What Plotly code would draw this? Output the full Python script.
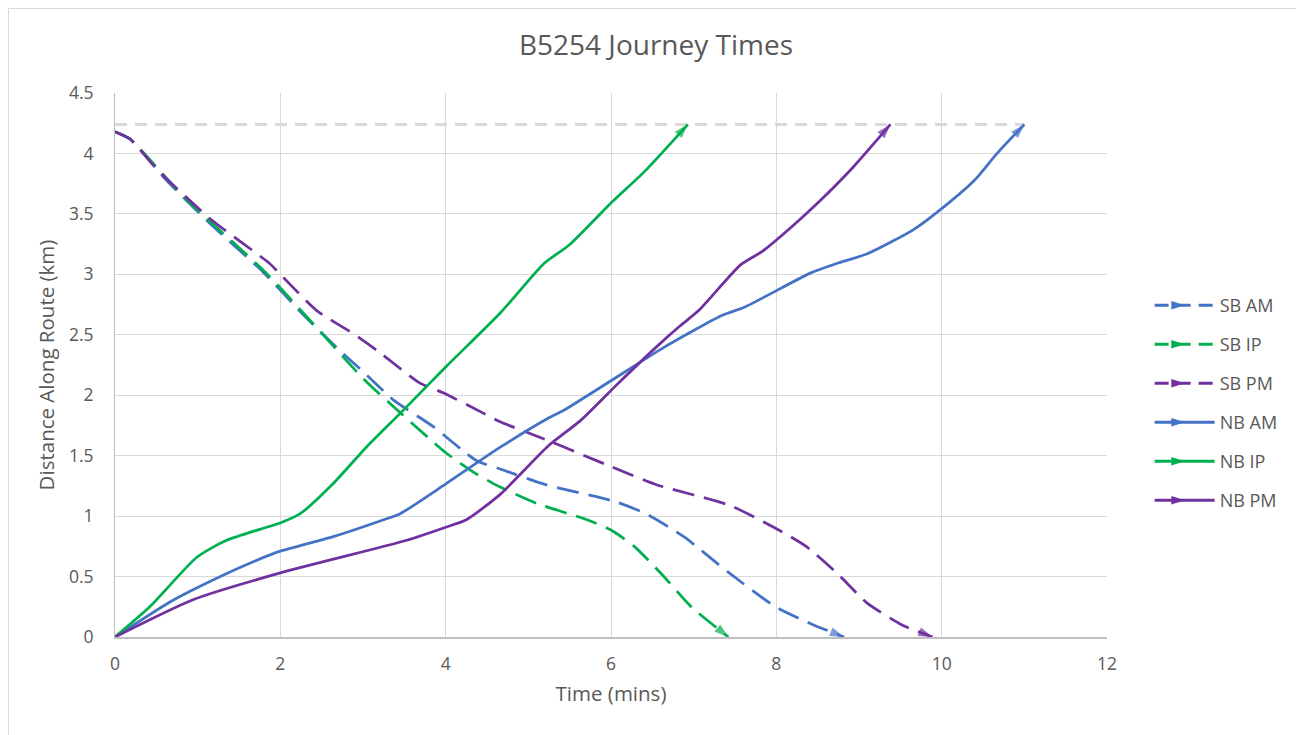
import plotly.graph_objects as go

# ---- data (time in minutes, distance in km) ----
sb_am_t = [0, 0.18, 0.62, 1.15, 1.79, 2.3, 2.72, 3.04, 3.37, 3.85, 4.37, 4.66, 5.21, 6.05, 6.42, 6.88, 7.43, 7.99, 8.45, 8.82]
sb_am_d = [4.18, 4.12, 3.78, 3.42, 3.02, 2.65, 2.37, 2.17, 1.96, 1.74, 1.46, 1.39, 1.26, 1.12, 1.02, 0.83, 0.53, 0.25, 0.10, 0.0]

sb_ip_t = [0, 0.18, 0.83, 1.83, 3.0, 3.33, 4.01, 4.37, 4.66, 5.12, 5.67, 6.0, 6.28, 6.60, 6.97, 7.42]
sb_ip_d = [4.18, 4.12, 3.64, 3.01, 2.14, 1.93, 1.52, 1.35, 1.24, 1.10, 0.98, 0.885, 0.75, 0.53, 0.25, 0.0]

sb_pm_t = [0, 0.18, 0.52, 1.15, 1.87, 2.0, 2.44, 2.88, 3.17, 3.69, 3.97, 4.46, 4.66, 5.22, 6.0, 6.55, 7.43, 7.99, 8.36, 8.73, 9.10, 9.52, 9.89]
sb_pm_d = [4.18, 4.12, 3.86, 3.46, 3.09, 3.0, 2.70, 2.51, 2.37, 2.10, 2.02, 1.85, 1.78, 1.63, 1.41, 1.26, 1.09, 0.90, 0.75, 0.53, 0.28, 0.10, 0.0]

nb_am_t = [0, 0.665, 1.03, 1.63, 2.0, 2.64, 3.25, 3.45, 4.01, 4.66, 5.24, 5.44, 6.0, 6.65, 7.34, 7.62, 8.41, 8.73, 9.10, 9.66, 10.03, 10.40, 10.67, 11.0]
nb_am_d = [0, 0.29, 0.42, 0.61, 0.71, 0.83, 0.97, 1.02, 1.27, 1.57, 1.81, 1.88, 2.12, 2.40, 2.66, 2.73, 3.01, 3.09, 3.17, 3.37, 3.56, 3.78, 4.0, 4.24]

nb_ip_t = [0, 0.42, 0.99, 1.35, 2.02, 2.24, 2.64, 3.04, 3.45, 4.01, 4.66, 5.19, 5.49, 6.0, 6.42, 6.93]
nb_ip_d = [0, 0.25, 0.66, 0.80, 0.95, 1.02, 1.27, 1.57, 1.85, 2.24, 2.68, 3.09, 3.24, 3.59, 3.86, 4.24]

nb_pm_t = [0, 0.95, 2.0, 3.53, 4.01, 4.25, 4.66, 5.24, 5.63, 6.09, 6.55, 6.83, 7.06, 7.57, 7.83, 8.18, 8.50, 8.92, 9.38]
nb_pm_d = [0, 0.31, 0.53, 0.80, 0.91, 0.97, 1.18, 1.58, 1.79, 2.10, 2.40, 2.57, 2.70, 3.08, 3.19, 3.39, 3.59, 3.88, 4.24]

route_t = [0, 11]
route_d = [4.24, 4.24]

names = ["SB AM", "SB IP", "SB PM", "NB AM", "NB IP", "NB PM"]
colors = ["#4472C4", "#00B050", "#7030A0", "#4472C4", "#00B050", "#7030A0"]
series = [(sb_am_t, sb_am_d), (sb_ip_t, sb_ip_d), (sb_pm_t, sb_pm_d),
          (nb_am_t, nb_am_d), (nb_ip_t, nb_ip_d), (nb_pm_t, nb_pm_d)]

FONT = "Open Sans"
TXT = "#595959"
GRID = "#d9d9d9"

# the page body adds an 8px offset; figure coordinates = page coordinates - 8
W, H = 1296, 727
L, R, T, B = 107, 1099, 85, 629  # plot area in figure px
PW, PH = R - L, B - T

fig = go.Figure()

# route length reference line
fig.add_trace(go.Scatter(x=route_t, y=route_d, mode="lines", showlegend=False,
                         hoverinfo="skip",
                         line=dict(color=GRID, width=3, dash="12px,8px")))

for name, col, (t, d) in zip(names, colors, series):
    dash = "22px,10px" if name.startswith("SB") else "solid"
    n = len(t)
    fig.add_trace(go.Scatter(
        x=t, y=d, mode="lines+markers", name=name, showlegend=False,
        line=dict(color=col, width=2.75, dash=dash, shape="spline", smoothing=0.6),
        marker=dict(symbol="arrow", angleref="previous",
                    size=[0] * (n - 1) + [15], color=col, line=dict(width=0)),
    ))

# legend entries
for name, col in zip(names, colors):
    dash = "14px,8px" if name.startswith("SB") else "solid"
    fig.add_trace(go.Scatter(
        x=[None], y=[None], mode="lines+markers", name=name, legendgroup=name,
        line=dict(color=col, width=3, dash=dash),
        marker=dict(symbol="arrow", angle=90, size=14, color=col, line=dict(width=0)),
    ))

fig.update_layout(
    width=W, height=H,
    margin=dict(l=L, r=W - R, t=T, b=H - B),
    paper_bgcolor="white", plot_bgcolor="white",
    font=dict(family=FONT, color=TXT, size=17),
    title=dict(text="B5254 Journey Times", x=0.5, xanchor="center", xref="container",
               y=1 - 37 / H, yanchor="middle", yref="container",
               font=dict(family=FONT, size=28, color=TXT)),
    legend=dict(x=1.043, xanchor="left", y=0.430, yanchor="middle",
                font=dict(family=FONT, size=18, color=TXT),
                itemwidth=60, tracegroupgap=12.6, bgcolor="rgba(0,0,0,0)"),
    showlegend=True,
    xaxis=dict(range=[0, 12], dtick=2, tick0=0, showgrid=True, gridcolor=GRID, gridwidth=1,
               zeroline=False, showline=True, linecolor="#bfbfbf", linewidth=1.5,
               ticks="", ticklabelstandoff=10,
               tickfont=dict(family=FONT, size=17.5, color=TXT),
               title=dict(text="Time (mins)", standoff=13,
                          font=dict(family=FONT, size=20.5, color=TXT))),
    yaxis=dict(range=[0, 4.5], dtick=0.5, tick0=0, showgrid=True, gridcolor=GRID, gridwidth=1,
               zeroline=False, showline=True, linecolor="#bfbfbf", linewidth=1,
               ticks="", ticklabelstandoff=17,
               tickfont=dict(family=FONT, size=17.5, color=TXT),
               title=dict(text="Distance Along Route (km)", standoff=8,
                          font=dict(family=FONT, size=20.5, color=TXT))),
)

# chart border
fig.add_shape(type="rect", xref="paper", yref="paper",
              x0=(0.5 - L) / PW, x1=(1294 - L) / PW,
              y0=(B - 740) / PH, y1=(B - 0.5) / PH,
              line=dict(color=GRID, width=1), fillcolor="rgba(0,0,0,0)", layer="below")

fig.write_html("out.html")
